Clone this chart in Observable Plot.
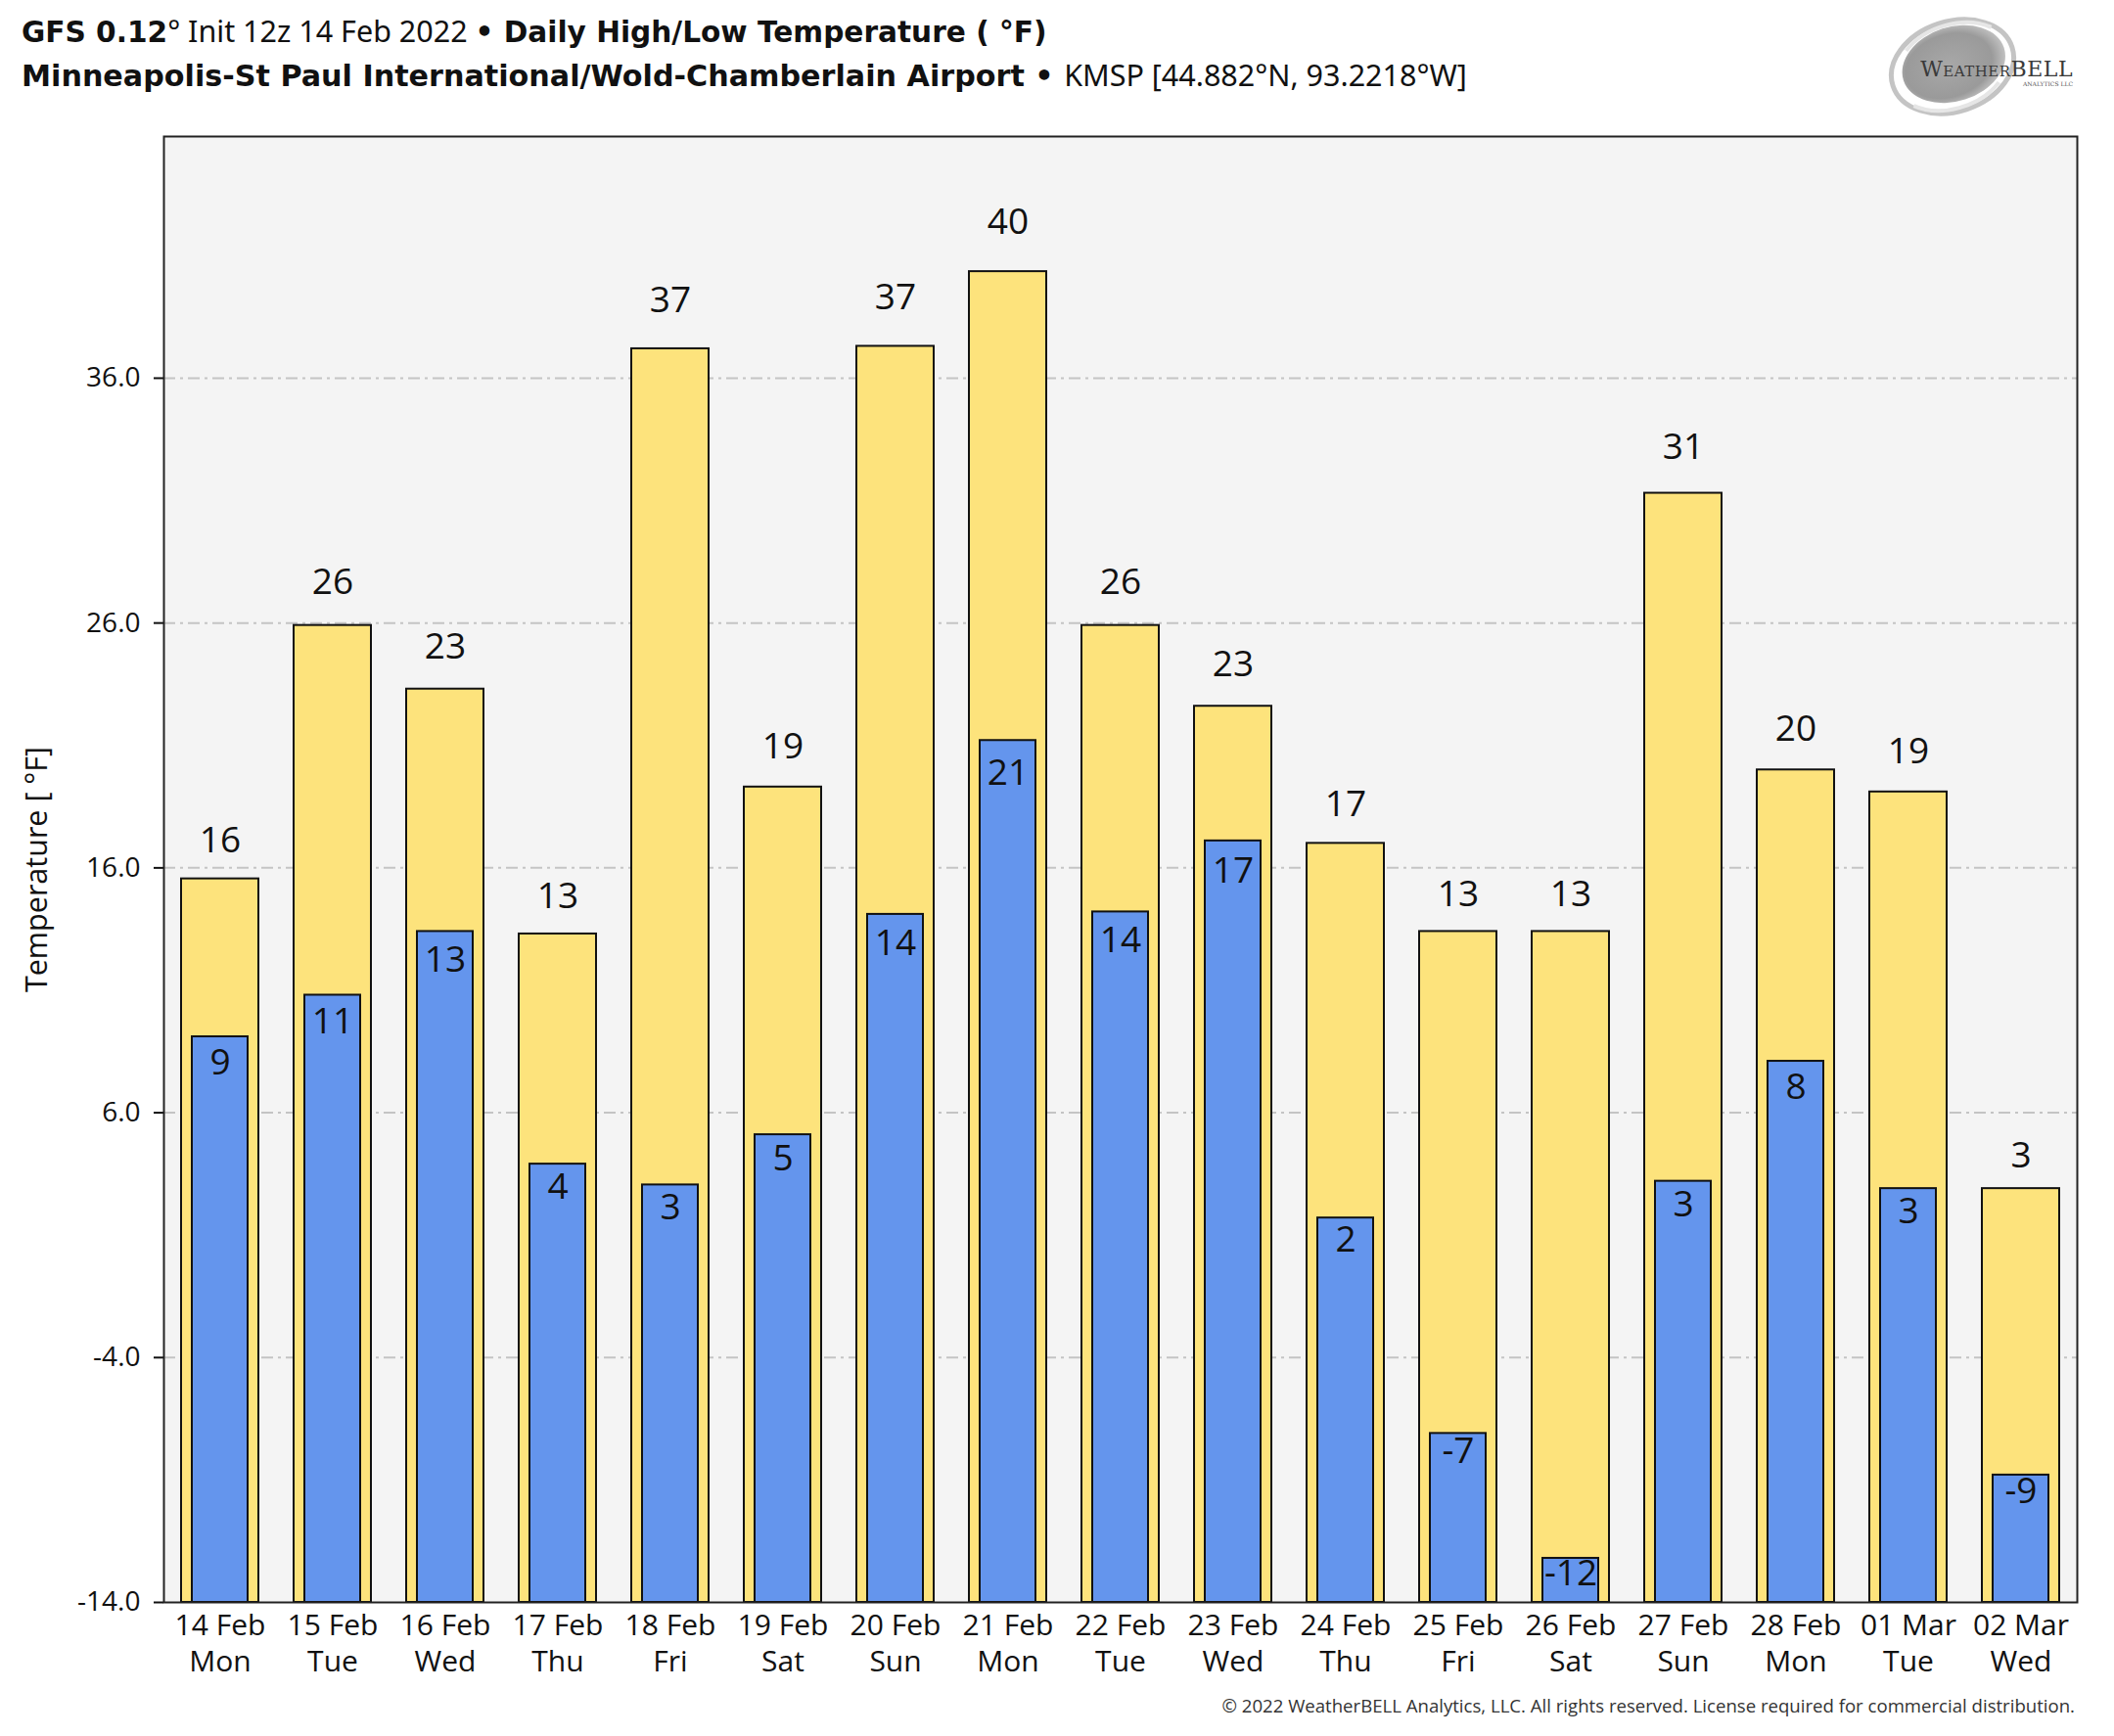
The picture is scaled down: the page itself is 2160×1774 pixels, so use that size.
<!DOCTYPE html>
<html>
<head>
<meta charset="utf-8">
<script src="https://cdn.jsdelivr.net/npm/d3@7"></script>
<script src="https://cdn.jsdelivr.net/npm/@observablehq/plot@0.6"></script>
<style>
  html, body { margin: 0; padding: 0; background: #ffffff; }
  #wrap { position: relative; width: 2160px; height: 1774px; overflow: hidden; }
  #chart { position: absolute; left: 0; top: 0; }
  .overlay { position: absolute; left: 0; top: 0; pointer-events: none; }
</style>
</head>
<body>
<div id="wrap">
  <div id="chart"></div>
  <svg class="overlay" width="2160" height="1774" xmlns="http://www.w3.org/2000/svg">
    <defs>
      <radialGradient id="swirl" cx="45%" cy="50%" r="60%">
        <stop offset="0%" stop-color="#a8a8a8"/>
        <stop offset="70%" stop-color="#9a9a9a"/>
        <stop offset="100%" stop-color="#d0d0d0"/>
      </radialGradient>
    </defs>
    <text x="22" y="43" font-size="29.6" fill="#111"><tspan font-family="DejaVu Sans" font-weight="bold">GFS 0.12</tspan><tspan font-family="Noto Sans" font-size="30.5">° Init 12z 14 Feb 2022 </tspan><tspan font-family="DejaVu Sans" font-weight="bold">• Daily High/Low Temperature ( °F)</tspan></text>
    <text x="22" y="88" font-size="30.2" fill="#111"><tspan font-family="DejaVu Sans" font-weight="bold">Minneapolis-St Paul International/Wold-Chamberlain Airport • </tspan><tspan font-family="Noto Sans" font-size="30.5">KMSP [44.882°N, 93.2218°W]</tspan></text>
    <g transform="translate(1995,68) rotate(-18)">
      <ellipse cx="0" cy="0" rx="64" ry="46" fill="none" stroke="#c4c4c4" stroke-width="5"/>
      <ellipse cx="2" cy="-2" rx="54" ry="38" fill="url(#swirl)"/>
      <path d="M -40 -30 A 60 42 0 0 1 50 -26" fill="none" stroke="#e6e6e6" stroke-width="4"/>
      <path d="M 40 30 A 60 42 0 0 1 -50 26" fill="none" stroke="#e6e6e6" stroke-width="4"/>
    </g>
    <text x="2118" y="78" text-anchor="end" font-family="DejaVu Serif" font-size="22" fill="#3a3a3a" letter-spacing="0.5">W<tspan font-size="15">EATHER</tspan>BELL</text>
    <text x="2118" y="88" text-anchor="end" font-family="DejaVu Serif" font-size="6" fill="#555">ANALYTICS LLC</text>
    <text x="2120" y="1750" text-anchor="end" font-family="Open Sans" font-size="18.6" fill="#333">© 2022 WeatherBELL Analytics, LLC. All rights reserved. License required for commercial distribution.</text>
  </svg>
</div>
<script>
// ---- data ----
const dates = ["14 Feb","15 Feb","16 Feb","17 Feb","18 Feb","19 Feb","20 Feb","21 Feb","22 Feb","23 Feb","24 Feb","25 Feb","26 Feb","27 Feb","28 Feb","01 Mar","02 Mar"];
const days  = ["Mon","Tue","Wed","Thu","Fri","Sat","Sun","Mon","Tue","Wed","Thu","Fri","Sat","Sun","Mon","Tue","Wed"];
const highs = [15.55, 25.9, 23.3, 13.3, 37.2, 19.3, 37.3, 40.35, 25.9, 22.6, 17.0, 13.4, 13.4, 31.3, 20.0, 19.1, 2.9];
const lows  = [9.1, 10.8, 13.4, 3.9, 3.05, 5.1, 14.1, 21.2, 14.2, 17.1, 1.7, -7.1, -12.2, 3.2, 8.1, 2.9, -8.8];
const yTicks = [-14, -4, 6, 16, 26, 36];
const yTop = 45.87;
const yLabel = "Temperature [ °F]";

const data = dates.map((d, i) => ({date: d, day: days[i], high: highs[i], low: lows[i]}));
const dayOf = new Map(dates.map((d, i) => [d, days[i]]));
const yBase = yTicks[0];
const fmt = v => String(Math.round(v));

const chart = Plot.plot({
  width: 2160,
  height: 1774,
  marginTop: 139,
  marginBottom: 137,
  marginLeft: 167,
  marginRight: 38,
  style: {fontFamily: "'Open Sans', sans-serif", fontSize: "28px", color: "#111", background: "transparent"},
  x: {domain: dates, paddingInner: 0.316, paddingOuter: 0.158, label: null},
  y: {domain: [yBase, yTop], label: null},
  marks: [
    Plot.frame({fill: "#f4f4f4", stroke: "none"}),
    Plot.ruleY(yTicks.slice(1), {stroke: "#c4c4c4", strokeWidth: 2, strokeDasharray: "12,5,3,5"}),
    Plot.barY(data, {x: "date", y1: yBase, y2: "high", fill: "#fde37c", stroke: "#111", strokeWidth: 2}),
    Plot.barY(data, {x: "date", y1: yBase, y2: "low", fill: "#6495ed", stroke: "#111", strokeWidth: 2, insetLeft: 11, insetRight: 11}),
    Plot.text(data, {x: "date", y: d => d.high + 1.0 + 0.019 * (d.high - yBase), text: d => fmt(d.high), fontSize: 37, fill: "#111", lineAnchor: "middle"}),
    Plot.text(data, {x: "date", y: d => d.low - 0.57 - 0.0216 * (d.low - yBase), text: d => fmt(d.low), fontSize: 37, fill: "#111", lineAnchor: "middle"}),
    Plot.axisY({ticks: yTicks, tickFormat: d => d.toFixed(1), tickSize: 10, tickPadding: 14, fontSize: 28, strokeWidth: 2, stroke: "#111", label: null}),
    Plot.text([yLabel], {frameAnchor: "left", dx: -129, rotate: -90, fontSize: 30.5, fill: "#111", text: d => d, textAnchor: "middle", lineAnchor: "middle"}),
    Plot.axisX({tickSize: 0, tickPadding: 7, fontSize: 30, lineHeight: 1.24, label: null,
      tickFormat: d => d + "\n" + dayOf.get(d)}),
    Plot.frame({stroke: "#222", strokeWidth: 2})
  ]
});
document.getElementById("chart").appendChild(chart);
</script>
</body>
</html>
